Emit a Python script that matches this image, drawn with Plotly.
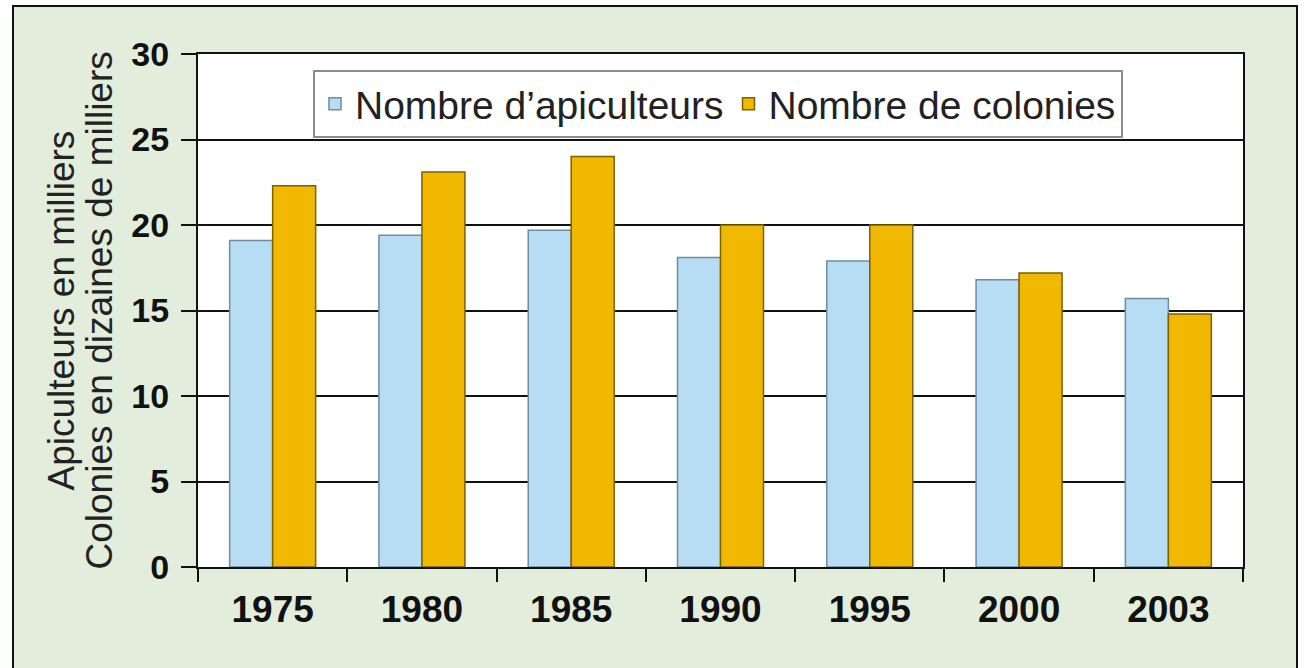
import plotly.graph_objects as go

years = ["1975", "1980", "1985", "1990", "1995", "2000", "2003"]
apiculteurs = [19.1, 19.4, 19.7, 18.1, 17.9, 16.8, 15.7]
colonies = [22.3, 23.1, 24.0, 20.0, 20.0, 17.2, 14.8]
y_ticks = [0, 5, 10, 15, 20, 25, 30]
y_title_lines = ["Apiculteurs en milliers", "Colonies en dizaines de milliers"]

FONT = "Liberation Sans, Arial, sans-serif"
W, H = 1307, 668
L, R, T, B = 198, 64, 54, 101
pw, ph = W - L - R, H - T - B

def px_x(p):
    return (p - L) / pw

def px_y(p):
    return (H - B - p) / ph

fig = go.Figure()
fig.add_trace(go.Bar(
    x=years, y=apiculteurs, name="Nombre d’apiculteurs",
    marker=dict(color="#B7DDF5", line=dict(color="#6F8CA0", width=1.5)),
))
fig.add_trace(go.Bar(
    x=years, y=colonies, name="Nombre de colonies",
    marker=dict(color="#F0B800", line=dict(color="#7A6200", width=1.5)),
))

annotations = []
for line_text, cx in zip(y_title_lines, [61, 99]):
    annotations.append(dict(
        text=line_text, xref="paper", yref="paper",
        x=px_x(cx), y=0.5, xanchor="center", yanchor="middle",
        textangle=-90, showarrow=False,
        font=dict(family=FONT, size=37, color="#222"),
    ))

fig.update_layout(
    width=W, height=H,
    margin=dict(l=L, r=R, t=T, b=B, pad=0),
    paper_bgcolor="white",
    plot_bgcolor="white",
    barmode="group", bargap=0.424, bargroupgap=0,
    font=dict(family=FONT, color="#111"),
    showlegend=True,
    legend=dict(
        orientation="h", x=px_x(313), y=px_y(70), xanchor="left", yanchor="top",
        bgcolor="white", bordercolor="#8C8C8C", borderwidth=2,
        font=dict(family=FONT, size=39, color="#222"),
        itemwidth=30, traceorder="normal",
    ),
    annotations=annotations,
    shapes=[
        dict(type="rect", xref="paper", yref="paper", layer="below",
             x0=px_x(13), x1=px_x(1297), y0=px_y(700), y1=px_y(6),
             fillcolor="#E2EDDC", line=dict(color="#111", width=2)),
        dict(type="rect", xref="paper", yref="paper", layer="below",
             x0=0, x1=1, y0=0, y1=1, fillcolor="white", line=dict(width=0)),
    ],
)

fig.update_xaxes(
    type="category", showgrid=False,
    showline=True, linecolor="#111", linewidth=2, mirror=True,
    ticks="outside", tickson="boundaries", ticklen=13, tickwidth=2, tickcolor="#111",
    tickfont=dict(family=FONT, size=37, color="#111", weight="bold"),
    ticklabelstandoff=9,
)
fig.update_yaxes(
    range=[0, 30], tickvals=y_ticks,
    showgrid=True, gridcolor="#111", gridwidth=2,
    showline=True, linecolor="#111", linewidth=2, mirror=True,
    zeroline=False,
    ticks="outside", ticklen=15, tickwidth=2, tickcolor="#111",
    tickfont=dict(family=FONT, size=34, color="#111", weight="bold"),
    ticklabelstandoff=5,
)

fig.write_html("out.html", config={"displayModeBar": False},
               post_script="document.body.style.margin='0';")
